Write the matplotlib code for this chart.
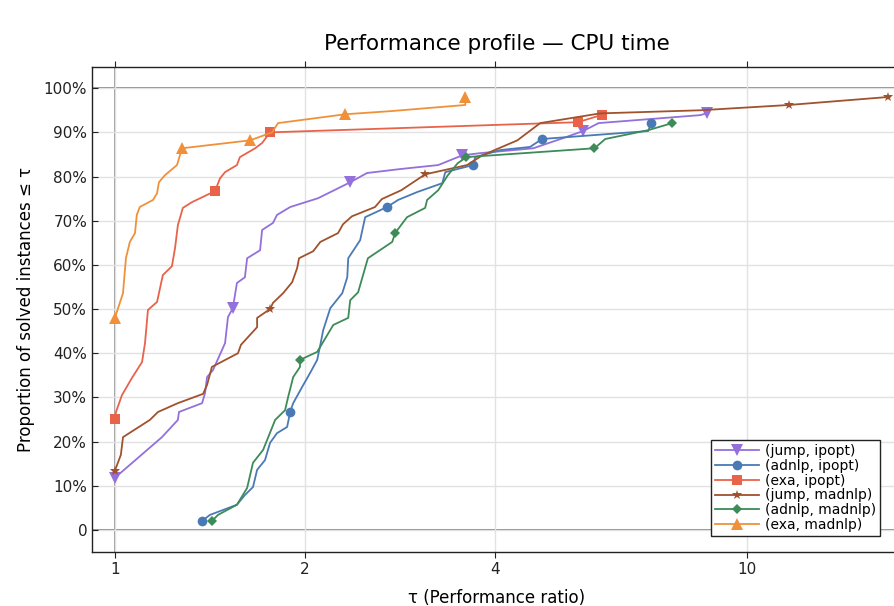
import numpy as np
import matplotlib
matplotlib.use("Agg")
import matplotlib.pyplot as plt
from matplotlib.ticker import FixedLocator, NullLocator

# performance ratio (tau) and proportion solved (%) per solver pair
jump_ipopt_x = [1.0, 1.187, 1.258, 1.263, 1.374, 1.389, 1.399, 1.430, 1.494, 1.510, 1.537,
                1.560, 1.606, 1.619, 1.697, 1.710, 1.779, 1.805, 1.894, 2.097, 2.357, 2.506,
                2.830, 3.248, 3.545, 3.787, 4.593, 5.121, 5.507, 5.827, 8.43, 8.64]
jump_ipopt_y = [11.8, 21.0, 24.9, 26.7, 28.7, 31.0, 34.6, 36.2, 42.3, 48.2, 50.2,
                55.9, 57.2, 61.5, 63.3, 67.9, 69.5, 71.3, 73.1, 75.1, 78.7, 80.8,
                81.7, 82.6, 84.8, 85.3, 86.4, 88.7, 90.3, 92.1, 93.9, 94.3]
jump_ipopt_marks = [0, 10, 20, 24, 28, 31]

adnlp_ipopt_x = [1.373, 1.414, 1.560, 1.606, 1.654, 1.679, 1.728, 1.760, 1.805, 1.873, 1.894,
                 1.915, 1.979, 2.036, 2.090, 2.114, 2.136, 2.192, 2.290, 2.332, 2.340, 2.444,
                 2.489, 2.696, 2.806, 3.010, 3.297, 3.333, 3.689, 3.717, 4.075, 4.539, 4.741,
                 6.98, 7.06]
adnlp_ipopt_y = [2.0, 3.4, 5.7, 7.9, 9.7, 13.6, 15.8, 19.7, 21.9, 23.3, 26.7,
                 28.7, 32.4, 35.5, 38.5, 41.9, 45.2, 50.2, 53.6, 57.2, 61.5, 65.6,
                 70.8, 73.1, 74.7, 76.5, 78.5, 81.0, 82.6, 84.4, 86.0, 86.7, 88.5,
                 90.3, 92.1]
adnlp_ipopt_marks = [0, 10, 23, 28, 32, 34]

exa_ipopt_x = [1.0, 1.004, 1.026, 1.064, 1.104, 1.116, 1.128, 1.166, 1.191, 1.231, 1.245,
               1.258, 1.281, 1.324, 1.440, 1.467, 1.494, 1.560, 1.577, 1.667, 1.710, 1.760,
               5.40, 5.91]
exa_ipopt_y = [25.0, 26.7, 30.5, 34.4, 38.0, 42.3, 49.8, 51.6, 57.7, 59.7, 63.8,
               69.0, 72.9, 74.2, 76.7, 79.6, 81.0, 82.6, 84.4, 86.4, 87.6, 90.0,
               92.3, 94.0]
exa_ipopt_marks = [0, 14, 21, 22, 23]

jump_madnlp_x = [1.0, 1.022, 1.030, 1.136, 1.170, 1.258, 1.379, 1.399, 1.424, 1.566, 1.583,
                 1.679, 1.679, 1.760, 1.779, 1.846, 1.908, 1.943, 1.956, 2.060, 2.114, 2.255,
                 2.296, 2.372, 2.580, 2.645, 2.839, 3.097, 3.608, 3.815, 4.334, 4.710, 5.86,
                 8.43, 11.65, 16.7]
jump_madnlp_y = [13.4, 17.0, 21.0, 24.9, 26.7, 28.7, 30.8, 32.8, 36.9, 40.0, 41.9,
                 45.9, 48.0, 50.0, 51.4, 53.6, 56.1, 59.3, 61.5, 63.1, 65.2, 67.2,
                 69.2, 71.0, 73.1, 74.9, 76.9, 80.5, 82.6, 84.8, 88.2, 92.1, 94.3,
                 95.0, 96.2, 98.0]
jump_madnlp_marks = [0, 13, 27, 34, 35]

adnlp_madnlp_x = [1.424, 1.456, 1.560, 1.619, 1.654, 1.716, 1.793, 1.859, 1.880, 1.915, 1.963,
                  1.963, 2.090, 2.216, 2.340, 2.357, 2.426, 2.514, 2.747, 2.776, 2.899, 3.097,
                  3.119, 3.248, 3.364, 3.486, 3.599, 5.74, 5.97, 6.98, 7.62]
adnlp_madnlp_y = [2.0, 3.4, 5.7, 9.5, 15.2, 18.1, 24.9, 27.1, 30.1, 34.6, 36.9,
                  38.5, 40.3, 46.4, 48.0, 52.0, 53.8, 61.5, 65.2, 67.2, 70.8, 72.9,
                  74.7, 76.9, 80.3, 83.0, 84.4, 86.4, 88.5, 90.5, 92.1]
adnlp_madnlp_marks = [0, 11, 19, 26, 27, 30]

exa_madnlp_x = [1.0, 1.030, 1.041, 1.056, 1.076, 1.083, 1.095, 1.149, 1.166, 1.174, 1.200,
                1.254, 1.277, 1.637, 1.773, 1.812, 2.314, 2.727, 3.585, 3.585]
exa_madnlp_y = [48.0, 53.6, 61.5, 65.2, 67.2, 71.3, 73.1, 74.7, 76.2, 78.7, 80.3,
                82.6, 86.4, 88.2, 90.0, 92.1, 94.1, 94.8, 96.2, 98.0]
exa_madnlp_marks = [0, 12, 13, 16, 19]

series = [
    ("(jump, ipopt)", jump_ipopt_x, jump_ipopt_y, jump_ipopt_marks, "#9370db", "v", 8),
    ("(adnlp, ipopt)", adnlp_ipopt_x, adnlp_ipopt_y, adnlp_ipopt_marks, "#4a7ab5", "o", 7),
    ("(exa, ipopt)", exa_ipopt_x, exa_ipopt_y, exa_ipopt_marks, "#e8634a", "s", 7),
    ("(jump, madnlp)", jump_madnlp_x, jump_madnlp_y, jump_madnlp_marks, "#a0522d", "*", 7),
    ("(adnlp, madnlp)", adnlp_madnlp_x, adnlp_madnlp_y, adnlp_madnlp_marks, "#3d8b57", "D", 5),
    ("(exa, madnlp)", exa_madnlp_x, exa_madnlp_y, exa_madnlp_marks, "#f0913a", "^", 8),
]

y_ticks = list(range(0, 101, 10))
y_labels = ["0"] + [f"{v}%" for v in y_ticks[1:]]
x_ticks = [1, 2, 4, 10]
x_labels = ["1", "2", "4", "10"]

fig = plt.figure(figsize=(8.95, 6.06), dpi=100)
ax = fig.add_axes([92 / 895, 54 / 606, 810 / 895, 485 / 606])

for label, xs, ys, marks, color, marker, ms in series:
    ax.plot(xs, ys, color=color, lw=1.3, marker=marker, markersize=ms,
            markevery=marks, markeredgewidth=0, label=label, zorder=3)

ax.set_xscale("log", base=2)
ax.set_xlim(0.92, 17.6)
ax.set_ylim(-5, 104.8)
ax.xaxis.set_major_locator(FixedLocator(x_ticks))
ax.xaxis.set_minor_locator(NullLocator())
ax.set_xticklabels(x_labels)
ax.set_yticks(y_ticks)
ax.set_yticklabels(y_labels)

ax.grid(True, color="#e2e2e2", lw=1.0, zorder=0)
ax.axhline(0, color="#888888", lw=1.4, zorder=1)
ax.axhline(100, color="#888888", lw=1.4, zorder=1)
ax.axvline(1, color="#999999", lw=1.4, zorder=1)

for side in ["left", "bottom", "top"]:
    ax.spines[side].set_color("#222222")
    ax.spines[side].set_linewidth(1.0)
ax.spines["right"].set_visible(False)
ax.tick_params(axis="y", direction="in", length=4, labelsize=11, colors="#222222")
ax.tick_params(axis="x", direction="out", length=4, labelsize=11, colors="#222222",
               top=True, labeltop=False)

ax.set_title("Performance profile — CPU time", fontsize=15.5, pad=12)
ax.set_xlabel("τ (Performance ratio)", fontsize=12, labelpad=8)
ax.set_ylabel("Proportion of solved instances ≤ τ", fontsize=12, labelpad=6)

leg = ax.legend(loc="lower right", bbox_to_anchor=(0.973, 0.033), borderaxespad=0,
                fontsize=10, frameon=True, fancybox=False, edgecolor="#222222",
                framealpha=1, handlelength=3.2, borderpad=0.3, labelspacing=0.05,
                handletextpad=0.4)
leg.get_frame().set_linewidth(1.0)

fig.savefig("out.png", dpi=100)
